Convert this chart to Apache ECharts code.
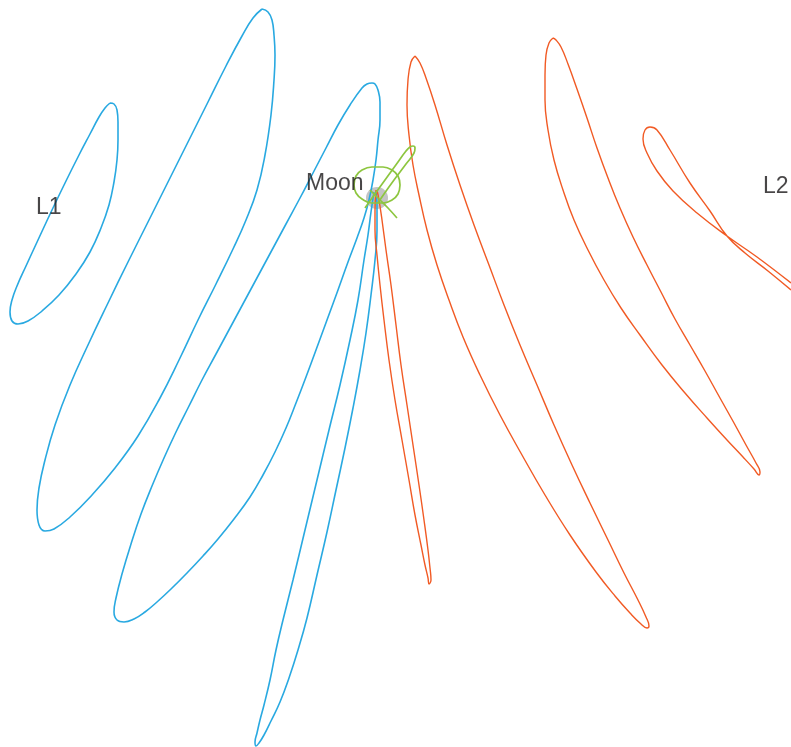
<!DOCTYPE html>
<html>
<head>
<meta charset="utf-8">
<script src="https://cdn.jsdelivr.net/npm/echarts@6/dist/echarts.min.js"></script>
<style>
html,body{margin:0;padding:0;background:#fff;}
#chart{width:791px;height:747px;}
</style>
</head>
<body>
<div id="chart"></div>
<script>
// Trajectory data (arbitrary frame units)
var blueL1Loop = [[110,103],[114,104],[117,110],[118,122],[118,140],[117,160],[114,182],[109,205],[101,228],[90,252],[76,274],[59,295],[42,311],[28,321],[18,324],[12,321],[10,312],[12,300],[17,286],[26,266],[38,240],[52,210],[66,181],[79,155],[90,134],[99,117],[105,108],[110,103]];
var blueLoop2 = [[262,9],[268,12],[272,20],[274,35],[275,55],[274,80],[271,115],[265,155],[257,190],[246,220],[233,249],[216,284],[198,320],[180,358],[160,398],[138,436],[115,468],[92,495],[70,517],[54,529],[45,531],[39,525],[37,510],[39,488],[45,460],[55,425],[70,385],[88,345],[108,303],[128,262],[148,222],[168,182],[188,142],[208,102],[226,66],[242,36],[253,18],[262,9]];
var blueLoop3 = [[373,180],[376,160],[378,140],[380,120],[380,102],[378,90],[375,84],[372,83],[367,84],[362,88],[350,105],[338,125],[326,148],[313,173],[300,198],[286,224],[272,250],[258,276],[244,302],[230,328],[216,354],[202,380],[189,406],[176,432],[164,458],[152,486],[141,514],[131,544],[122,574],[116,598],[114,612],[117,620],[124,622],[134,619],[145,612],[157,602],[171,589],[187,573],[203,556],[218,539],[234,519],[250,497],[263,475],[275,452],[286,428],[296,403],[306,377],[316,350],[327,320],[338,290],[348,262],[357,238],[364,218],[369,200],[373,180]];
var blueNarrow = [[374,192],[371,212],[368,235],[364,260],[358,300],[350,340],[340,385],[329,430],[317,480],[305,530],[293,580],[283,620],[276,650],[270,680],[264,705],[260,720],[257,733],[255,742],[256,746],[259,743],[264,735],[271,721],[280,702],[289,678],[298,650],[307,618],[317,575],[327,532],[336,490],[345,448],[353,408],[360,370],[366,333],[371,295],[375,260],[377,230],[377,205],[376,192]];
var orangeNarrow = [[376,190],[375,210],[375,230],[377,255],[380,285],[384,320],[389,360],[395,400],[402,440],[409,480],[415,515],[421,545],[425,565],[428,578],[429,584],[431,580],[430,568],[428,550],[424,520],[419,485],[413,445],[407,405],[401,365],[396,325],[391,285],[386,250],[382,220],[379,200],[377,190]];
var orangeLoop2 = [[415,56],[411,62],[408,80],[407,105],[409,135],[413,165],[419,195],[427,230],[437,265],[449,300],[463,337],[480,375],[500,415],[522,455],[545,495],[570,535],[596,572],[615,596],[630,613],[641,624],[647,628],[649,626],[646,617],[638,600],[624,573],[608,540],[590,503],[572,465],[554,425],[537,385],[520,345],[504,305],[489,265],[474,225],[460,185],[447,145],[435,105],[426,78],[420,63],[415,56]];
var orangeLoop3 = [[553,38],[549,43],[546,55],[545,75],[545,100],[548,130],[554,160],[563,190],[574,220],[588,250],[604,280],[621,308],[640,335],[662,365],[685,393],[707,418],[727,440],[743,457],[754,469],[759,475],[760,472],[756,463],[746,445],[734,423],[720,398],[705,371],[690,345],[675,319],[661,292],[647,265],[633,237],[620,208],[608,178],[597,148],[587,118],[577,89],[568,64],[561,47],[556,40],[553,38]];
var orangeHalo = [[791,283],[757,257],[727,236],[697,213],[673,191],[657,171],[647,153],[643,139],[645,130],[650,127],[657,130],[670,150],[690,183],[710,211],[727,236],[745,253],[768,271],[791,290]];
var greenEllipse = [[400,185],[398,176],[392,170],[383,167],[372,167],[362,170],[356,176],[354,185],[356,193],[362,199],[372,203],[383,203],[392,200],[398,194],[400,185]];
var greenNarrow = [[365,208],[372,198],[385,180],[398,162],[406,151],[410,147],[413,146],[415,148],[414,153],[406,164],[394,180],[384,194],[378,203]];
var greenLine = [[370,190],[378,198],[388,208],[397,218]];
var moonPos = [[377,198]];
var labelPoints = [[306,184,'Moon'],[36,208,'L1'],[763,187,'L2']];

var BLUE = '#29a9e1', ORANGE = '#f15a24', GREEN = '#8dc63f';

function lineSeries(data, color, width, z){
  return {type:'line', data:data, smooth:0.45, symbol:'none', silent:true, z:z,
    lineStyle:{color:color, width:width}};
}

var series = [];
series.push({type:'scatter', data:moonPos, symbolSize:22, z:1, silent:true,
  itemStyle:{color:'#b5b5b5'}});
[blueL1Loop, blueLoop2, blueLoop3, blueNarrow].forEach(function(d){ series.push(lineSeries(d, BLUE, 1.6, 3)); });
[orangeNarrow, orangeLoop2, orangeLoop3, orangeHalo].forEach(function(d){ series.push(lineSeries(d, ORANGE, 1.4, 3)); });
[greenEllipse, greenNarrow, greenLine].forEach(function(d){ series.push(lineSeries(d, GREEN, 1.7, 4)); });
series.push({type:'scatter', data:labelPoints, symbolSize:0, z:5, silent:true,
  label:{show:true, position:'inside', align:'left', verticalAlign:'middle',
    formatter:function(p){return p.data[2];},
    fontFamily:'Liberation Sans, Arial, sans-serif', fontSize:23, color:'#1a1819'}});

var chart = echarts.init(document.getElementById('chart'), null, {renderer:'canvas'});
chart.setOption({
  animation:false,
  backgroundColor:'#ffffff',
  grid:{left:0, right:0, top:0, bottom:0, containLabel:false},
  xAxis:{type:'value', min:0, max:791, show:false},
  yAxis:{type:'value', min:0, max:747, inverse:true, show:false},
  series:series
});
</script>
</body>
</html>
